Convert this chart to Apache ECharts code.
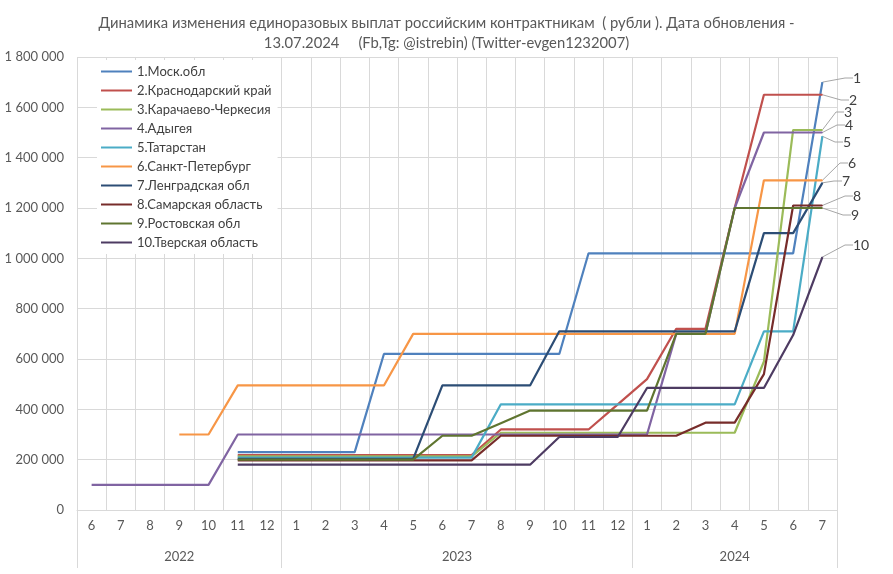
<!DOCTYPE html>
<html>
<head>
<meta charset="utf-8">
<script src="https://cdn.jsdelivr.net/npm/echarts@6/dist/echarts.min.js"></script>
<style>
  html, body { margin: 0; padding: 0; background: #fff; }
  #chart { width: 893px; height: 574px; }
</style>
</head>
<body>
<div id="chart"></div>
<script>
// months 2022-6 ... 2024-7
var months = ['6','7','8','9','10','11','12',
              '1','2','3','4','5','6','7','8','9','10','11','12',
              '1','2','3','4','5','6','7'];
var years      = ['2022', '2023', '2024'];
var yearSpans  = [7, 12, 7];

var names = ['1.Моск.обл', '2.Краснодарский край', '3.Карачаево-Черкесия', '4.Адыгея',
             '5.Татарстан', '6.Санкт-Петербург', '7.Ленградская обл', '8.Самарская область',
             '9.Ростовская обл', '10.Тверская область'];
var endTags = ['1','2','3','4','5','6','7','8','9','10'];

var _ = null;
var moskObl   = [_,_,_,_,_, 230000,230000,230000,230000,230000, 620000,620000,620000,620000,620000,620000,620000,
                 1020000,1020000,1020000,1020000,1020000,1020000,1020000,1020000, 1700000];
var krasnodar = [_,_,_,_,_, 218000,218000,218000,218000,218000,218000,218000,218000,218000,
                 320000,320000,320000,320000, 420000, 520000, 720000,720000, 1200000, 1650000,1650000,1650000];
var karachaevo= [_,_,_,_,_, 213000,213000,213000,213000,213000,213000,213000,213000,213000,
                 307000,307000,307000,307000,307000,307000,307000,307000,307000, 590000, 1510000,1510000];
var adygeya   = [100000,100000,100000,100000,100000, 300000,300000,300000,300000,300000,300000,300000,300000,300000,
                 300000,300000,300000,300000,300000,300000, 700000,700000, 1200000, 1500000,1500000,1500000];
var tatarstan = [_,_,_,_,_, 208000,208000,208000,208000,208000,208000,208000,208000,208000,
                 420000,420000,420000,420000,420000,420000,420000,420000,420000, 710000,710000, 1485000];
var spb       = [_,_,_, 300000,300000, 495000,495000,495000,495000,495000,495000,
                 700000,700000,700000,700000,700000,700000,700000,700000,700000,700000,700000,700000,
                 1310000,1310000,1310000];
var lenObl    = [_,_,_,_,_, 203000,203000,203000,203000,203000,203000,203000, 495000,495000,495000,495000,
                 710000,710000,710000,710000,710000,710000,710000, 1100000,1100000, 1300000];
var samara    = [_,_,_,_,_, 197000,197000,197000,197000,197000,197000,197000,197000,197000,
                 295000,295000,295000,295000,295000,295000,295000, 347000,347000, 540000, 1210000,1210000];
var rostov    = [_,_,_,_,_, 200000,200000,200000,200000,200000,200000,200000, 295000,295000, 345000,
                 395000,395000,395000,395000,395000, 700000,700000, 1200000,1200000,1200000,1200000];
var tver      = [_,_,_,_,_, 180000,180000,180000,180000,180000,180000,180000,180000,180000,180000,180000,
                 290000,290000,290000, 485000,485000,485000,485000,485000, 695000, 1005000];

var allData = [moskObl, krasnodar, karachaevo, adygeya, tatarstan, spb, lenObl, samara, rostov, tver];
var colors  = ['#4F81BD','#C0504D','#9BBB59','#8064A2','#4BACC6','#F79646','#2C4D75','#772C2A','#5F7530','#4D3B62'];
// where the numbered end tags sit (left edge, middle)
var tagPos  = [[853,78],[849,100],[844,112],[845,125],[843,142],[848,163],[842,181],[853,196],[851,215],[853,245]];

var FONT = 'Lato';

function spaced(v) {
	return String(v).replace(/\B(?=(\d{3})+(?!\d))/g, ' ');
}

// year label centers / separators on a 0..26 value scale
var yearTicks = [0], yearMids = [];
var acc = 0;
for (var k = 0; k < yearSpans.length; k++) {
	yearMids.push(acc + yearSpans[k] / 2);
	acc += yearSpans[k];
	yearTicks.push(acc);
}

var series = [];
for (var i = 0; i < allData.length; i++) {
	var d = allData[i].map(function (v, idx, arr) {
		if (idx === arr.length - 1) {
			// tiny invisible symbol so the end tag has something to hang on
			return { value: v, symbol: 'circle', symbolSize: 1, label: { show: true } };
		}
		return v;
	});
	series.push({
		name: names[i],
		type: 'line',
		xAxisIndex: 0,
		data: d,
		symbol: 'none',
		lineStyle: { color: colors[i], width: 2.2 },
		itemStyle: { color: colors[i] },
		z: 2 + i,
		label: {
			show: false,
			formatter: endTags[i],
			fontFamily: FONT,
			fontSize: 14,
			color: '#404040'
		},
		labelLayout: {
			x: tagPos[i][0],
			y: tagPos[i][1],
			align: 'left',
			verticalAlign: 'middle'
		},
		labelLine: {
			show: true,
			length2: 8,
			lineStyle: { color: '#a6a6a6', width: 1 }
		}
	});
}

var chart = echarts.init(document.getElementById('chart'));
chart.setOption({
	animation: false,
	backgroundColor: '#fff',
	title: {
		text: 'Динамика изменения единоразовых выплат российским контрактникам  ( рубли ). Дата обновления -\n13.07.2024     (Fb,Tg: @istrebin) (Twitter-evgen1232007)',
		left: 'center',
		top: 8,
		textStyle: {
			fontFamily: FONT,
			fontSize: 14.8,
			fontWeight: 'normal',
			color: '#595959',
			lineHeight: 20
		}
	},
	legend: {
		orient: 'vertical',
		left: 97,
		top: 60,
		padding: [5, 6, 5, 3],
		backgroundColor: '#fff',
		itemWidth: 31,
		itemHeight: 14,
		itemGap: 6,
		data: names,
		itemStyle: { opacity: 0 },
		textStyle: { fontFamily: FONT, fontSize: 13, color: '#404040' }
	},
	grid: { left: 77, right: 56, top: 57, bottom: 64 },
	xAxis: [
		{
			type: 'category',
			data: months,
			boundaryGap: true,
			axisLine: { lineStyle: { color: '#d9d9d9' } },
			axisTick: { show: false },
			splitLine: { show: true, lineStyle: { color: '#d9d9d9' } },
			axisLabel: { interval: 0, margin: 9, fontFamily: FONT, fontSize: 13, color: '#595959' }
		},
		{
			type: 'value',
			position: 'bottom',
			min: 0,
			max: 26,
			axisLine: { show: false },
			splitLine: { show: false },
			axisTick: {
				show: true,
				customValues: yearTicks,
				length: 58,
				lineStyle: { color: '#d9d9d9' }
			},
			axisLabel: {
				customValues: yearMids,
				margin: 40,
				fontFamily: FONT,
				fontSize: 13,
				color: '#595959',
				formatter: function (v) {
					return years[yearMids.indexOf(v)];
				}
			}
		}
	],
	yAxis: {
		type: 'value',
		min: 0,
		max: 1800000,
		interval: 200000,
		axisLine: { show: false },
		axisTick: { show: false },
		splitLine: { lineStyle: { color: '#d9d9d9' } },
		axisLabel: {
			margin: 13,
			fontFamily: FONT,
			fontSize: 13,
			color: '#595959',
			formatter: spaced
		}
	},
	series: series
});
</script>
</body>
</html>
